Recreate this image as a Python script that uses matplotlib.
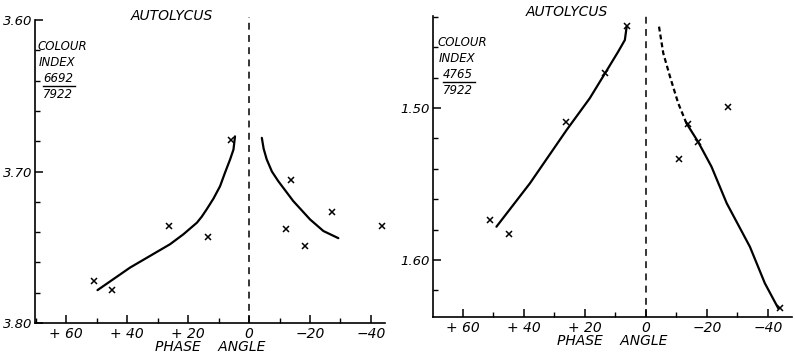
"""Autolycus colour index against phase angle, two panels."""

import matplotlib
matplotlib.use("Agg")
import matplotlib.pyplot as plt
from matplotlib.lines import Line2D
from matplotlib.ticker import FixedLocator, FixedFormatter, MultipleLocator


# %% data

# left panel: colour index 6692/7922
obs_phase_a = [51.0, 44.8, 26.2, 13.3, 6.0, -13.7, -12.1, -18.4, -27.1, -43.5]
obs_ci_a = [3.7726, 3.778, 3.736, 3.743, 3.679, 3.7053, 3.7377, 3.7495, 3.7268, 3.736]

fit_pos_phase_a = [49.7, 39.0, 25.9, 21.5, 17.1, 15.5, 13.9, 11.7, 9.5, 7.9, 6.2, 5.1, 4.6]
fit_pos_ci_a = [3.7783, 3.7634, 3.748, 3.7414, 3.7338, 3.7298, 3.725, 3.718, 3.7097,
                3.7009, 3.692, 3.6855, 3.6768]

fit_neg_phase_a = [-4.2, -4.8, -5.8, -7.5, -9.6, -14.5, -20.0, -24.4, -29.3]
fit_neg_ci_a = [3.6778, 3.685, 3.692, 3.700, 3.7064, 3.7195, 3.7316, 3.7393, 3.744]

# right panel: colour index 4765/7922
obs_phase_b = [6.3, 13.4, 26.2, 51.1, 44.8, -13.9, -17.1, -26.8, -10.8, -43.9]
obs_ci_b = [1.446, 1.477, 1.5094, 1.5737, 1.5829, 1.5107, 1.5222, 1.4995, 1.5336, 1.6318]

fit_pos_phase_b = [49.0, 38.0, 26.0, 18.4, 13.4, 9.1, 6.9, 6.3]
fit_pos_ci_b = [1.5781, 1.5495, 1.5145, 1.4936, 1.4772, 1.463, 1.4553, 1.4465]

fit_neg_dash_phase_b = [-4.3, -5.7, -7.9, -10.6, -13.3]
fit_neg_dash_ci_b = [1.4465, 1.464, 1.4794, 1.4969, 1.5101]

fit_neg_phase_b = [-13.3, -17.1, -21.5, -26.5, -34.1, -39.0, -43.4]
fit_neg_ci_b = [1.5101, 1.5222, 1.5386, 1.5627, 1.5913, 1.6153, 1.6318]

x_ticks = [60, 40, 20, 0, -20, -40]
x_tick_labels = ['+ 60', '+ 40', '+ 20', '0', '\u221220', '\u221240']

y_ticks_a = [3.60, 3.70, 3.80]
y_tick_labels_a = ['3.60', '3.70', '3.80']
y_ticks_b = [1.50, 1.60]
y_tick_labels_b = ['1.50', '1.60']


# %% figure

W, H = 795, 357
plt.rcParams['font.family'] = ['DejaVu Sans']
fig = plt.figure(figsize=(W / 100, H / 100), dpi=100)

ax_a = fig.add_axes([35 / W, 34 / H, 350 / W, 303 / H])
ax_b = fig.add_axes([433 / W, 40 / H, 359 / W, 301 / H])

mark = dict(ls='none', marker='x', ms=4.2, mew=1.1, color='black')
curve = dict(color='black', lw=1.6, solid_capstyle='round', solid_joinstyle='round')

ax_a.plot(obs_phase_a, obs_ci_a, **mark)
ax_a.plot(fit_pos_phase_a, fit_pos_ci_a, **curve)
ax_a.plot(fit_neg_phase_a, fit_neg_ci_a, **curve)

ax_b.plot(obs_phase_b, obs_ci_b, **mark)
ax_b.plot(fit_pos_phase_b, fit_pos_ci_b, **curve)
ax_b.plot(fit_neg_dash_phase_b, fit_neg_dash_ci_b, color='black', lw=1.6, ls=(0, (2.2, 1.4)))
ax_b.plot(fit_neg_phase_b, fit_neg_ci_b, **curve)

ax_a.set_xlim(70.2, -44.6)
ax_a.set_ylim(3.80, 3.60)
ax_b.set_xlim(69.8, -47.9)
ax_b.set_ylim(1.6375, 1.4395)

for ax, yt, ytl in [(ax_a, y_ticks_a, y_tick_labels_a), (ax_b, y_ticks_b, y_tick_labels_b)]:
    ax.axvline(0, ymin=0, ymax=1.01, color='black', lw=1.1, ls=(0, (4.5, 3.5)), clip_on=False)
    for side in ['top', 'right']:
        ax.spines[side].set_visible(False)
    for side in ['left', 'bottom']:
        ax.spines[side].set_linewidth(1.2)
    ax.xaxis.set_major_locator(FixedLocator(x_ticks))
    ax.xaxis.set_major_formatter(FixedFormatter(x_tick_labels))
    ax.xaxis.set_minor_locator(MultipleLocator(10))
    ax.yaxis.set_major_locator(FixedLocator(yt))
    ax.yaxis.set_major_formatter(FixedFormatter(ytl))
    ax.yaxis.set_minor_locator(MultipleLocator(0.02))
    ax.tick_params(which='major', direction='in', length=6, width=1.1, labelsize=10, pad=3)
    ax.tick_params(which='minor', direction='in', length=3.5, width=1.0)
    ax.tick_params(axis='y', pad=2, labelsize=9.5)
    for lab in ax.get_xticklabels() + ax.get_yticklabels():
        lab.set_fontstyle('italic')
    ax.set_xlabel('PHASE    ANGLE', fontsize=10, fontstyle='italic', labelpad=-1)
    ax.patch.set_alpha(0)

# titles and y-axis labels
fig.text(172 / W, 1 - 16 / H, 'AUTOLYCUS', fontsize=10, fontstyle='italic',
         ha='center', va='center')
fig.text(567 / W, 1 - 12 / H, 'AUTOLYCUS', fontsize=10, fontstyle='italic',
         ha='center', va='center')


def colour_label(x0, y0, num):
    kw = dict(fontsize=8.5, fontstyle='italic', ha='left', va='center')
    fig.text(x0 / W, 1 - y0 / H, 'COLOUR', **kw)
    fig.text((x0 + 2) / W, 1 - (y0 + 16) / H, 'INDEX', **kw)
    fig.text((x0 + 6) / W, 1 - (y0 + 32) / H, num, **kw)
    fig.add_artist(Line2D([(x0 + 6) / W, (x0 + 38) / W],
                          [1 - (y0 + 39) / H, 1 - (y0 + 39) / H],
                          color='black', lw=1.0, transform=fig.transFigure))
    fig.text((x0 + 6) / W, 1 - (y0 + 47) / H, '7922', **kw)


colour_label(37, 47, '6692')
colour_label(437, 43, '4765')

fig.savefig('out.png', dpi=100)
